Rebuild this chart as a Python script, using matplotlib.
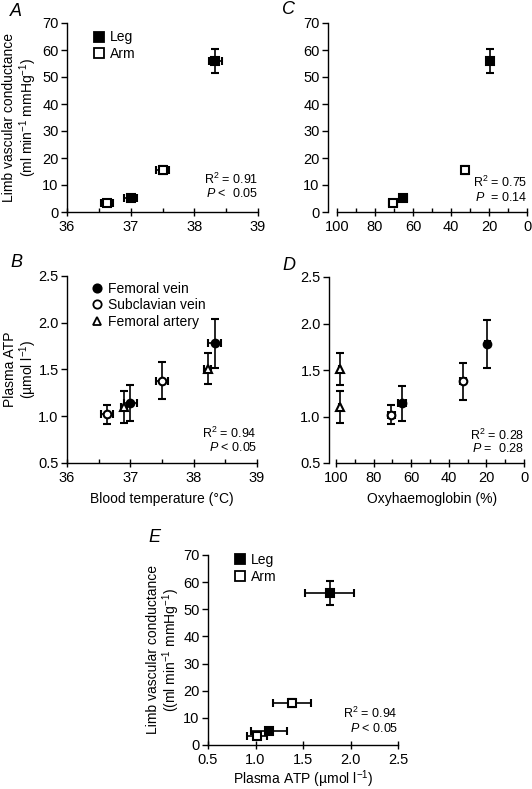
import matplotlib
matplotlib.use("Agg")
import matplotlib.pyplot as plt
from matplotlib.lines import Line2D
from matplotlib.ticker import MultipleLocator

plt.rcParams['font.family'] = ['Liberation Sans', 'DejaVu Sans']
plt.rcParams['font.size'] = 10
plt.rcParams['axes.linewidth'] = 1.0
plt.rcParams['mathtext.fontset'] = 'custom'
plt.rcParams['mathtext.rm'] = 'Liberation Sans'
plt.rcParams['mathtext.it'] = 'Liberation Sans:italic'

# blood temperature (deg C)
leg_temp = [37.0, 38.33]
leg_temp_err = [0.1, 0.1]
arm_temp = [36.63, 37.5]
arm_temp_err = [0.1, 0.1]
art_temp = [36.9, 38.22]
art_temp_err = [0.04, 0.05]

# oxyhaemoglobin (%)
leg_oxy = [65.0, 19.5]
leg_oxy_err = [2.0, 1.5]
arm_oxy = [70.5, 32.5]
arm_oxy_err = [2.0, 1.5]
art_oxy = [98.0, 98.0]
art_oxy_err = [0.3, 0.3]

# limb vascular conductance
leg_lvc = [5.2, 56.0]
leg_lvc_err = [0.9, 4.4]
arm_lvc = [3.3, 15.5]
arm_lvc_err = [0.8, 1.5]

# plasma ATP
fv_atp = [1.14, 1.78]
fv_atp_err = [0.19, 0.26]
sv_atp = [1.02, 1.38]
sv_atp_err = [0.105, 0.2]
fa_atp = [1.10, 1.51]
fa_atp_err = [0.17, 0.17]

stats_A = ("0.91", "<  0.05")
stats_B = ("0.94", "< 0.05")
stats_C = ("0.75", " = 0.14")
stats_D = ("0.28", "=  0.28")
stats_E = ("0.94", "< 0.05")

W, H = 532, 789
fig = plt.figure(figsize=(W / 100, H / 100), dpi=100)


def box(l, t, r, b):
    return [l / W, 1 - b / H, (r - l) / W, (b - t) / H]


def pts(ax, x, y, xerr, yerr, marker, filled, ms=6):
    ax.errorbar(x, y, xerr=xerr, yerr=yerr, fmt=marker, ms=ms,
                mfc='black' if filled else 'white', mec='black', mew=1.5,
                ecolor='black', elinewidth=1.2, capsize=3, capthick=1.2,
                zorder=3)


def style(ax):
    for s in ['top', 'right']:
        ax.spines[s].set_visible(False)
    ax.tick_params(axis='y', direction='out', length=4, width=1, pad=2,
                   labelsize=10.5)
    ax.tick_params(axis='x', which='major', direction='inout', length=6,
                   width=1, pad=3, labelsize=10.5)
    ax.tick_params(axis='x', which='minor', direction='in', length=3, width=1)


def stats(ax, r2, p, y1, y2):
    ax.text(1.0, y1, r"R$^2$ = " + r2, transform=ax.transAxes, ha='right',
            va='center', fontsize=9)
    ax.text(1.0, y2, r"$\it{P}$ " + p, transform=ax.transAxes,
            ha='right', va='center', fontsize=9)


lvc_label = "Limb vascular conductance\n(ml min$^{-1}$ mmHg$^{-1}$)"
atp_label = "Plasma ATP\n(\u00b5mol l$^{-1}$)"

# Panel A
axA = fig.add_axes(box(67, 23, 258, 212))
pts(axA, leg_temp, leg_lvc, leg_temp_err, leg_lvc_err, 's', True)
pts(axA, arm_temp, arm_lvc, arm_temp_err, arm_lvc_err, 's', False)
axA.set_xlim(36, 39)
axA.set_ylim(0, 70)
axA.xaxis.set_major_locator(MultipleLocator(1))
axA.xaxis.set_minor_locator(MultipleLocator(0.5))
axA.yaxis.set_major_locator(MultipleLocator(10))
axA.set_ylabel(lvc_label, linespacing=1.05)
axA.yaxis.set_label_coords(-0.148, 0.5)
style(axA)
stats(axA, *stats_A, 0.175, 0.10)

# Panel C
axC = fig.add_axes(box(328, 23, 527, 212))
pts(axC, leg_oxy, leg_lvc, leg_oxy_err, leg_lvc_err, 's', True)
pts(axC, arm_oxy, arm_lvc, arm_oxy_err, arm_lvc_err, 's', False)
axC.set_xlim(104.7, 0)
axC.set_ylim(0, 70)
axC.spines['bottom'].set_bounds(100, 0)
axC.xaxis.set_major_locator(MultipleLocator(20))
axC.xaxis.set_minor_locator(MultipleLocator(10))
axC.yaxis.set_major_locator(MultipleLocator(10))
style(axC)
stats(axC, *stats_C, 0.155, 0.075)

# Panel B
axB = fig.add_axes(box(67, 276, 257, 463))
pts(axB, leg_temp, fv_atp, leg_temp_err, fv_atp_err, 'o', True, 5.5)
pts(axB, arm_temp, sv_atp, arm_temp_err, sv_atp_err, 'o', False, 5.5)
pts(axB, art_temp, fa_atp, art_temp_err, fa_atp_err, '^', False, 6)
axB.set_xlim(36, 39)
axB.set_ylim(0.5, 2.5)
axB.xaxis.set_major_locator(MultipleLocator(1))
axB.xaxis.set_minor_locator(MultipleLocator(0.5))
axB.yaxis.set_major_locator(MultipleLocator(0.5))
axB.yaxis.set_major_formatter(plt.FormatStrFormatter('%.1f'))
axB.set_ylabel(atp_label, linespacing=1.05)
axB.yaxis.set_label_coords(-0.145, 0.5)
axB.set_xlabel("Blood temperature (\u00b0C)")
axB.xaxis.set_label_coords(0.5, -0.155)
style(axB)
stats(axB, *stats_B, 0.16, 0.085)

# Panel D
axD = fig.add_axes(box(329, 277, 524, 463))
pts(axD, leg_oxy, fv_atp, leg_oxy_err, fv_atp_err, 'o', True, 5.5)
pts(axD, arm_oxy, sv_atp, arm_oxy_err, sv_atp_err, 'o', False, 5.5)
pts(axD, art_oxy, fa_atp, art_oxy_err, fa_atp_err, '^', False, 6)
axD.set_xlim(103.7, 0)
axD.set_ylim(0.5, 2.5)
axD.spines['bottom'].set_bounds(100, 0)
axD.xaxis.set_major_locator(MultipleLocator(20))
axD.xaxis.set_minor_locator(MultipleLocator(10))
axD.yaxis.set_major_locator(MultipleLocator(0.5))
axD.yaxis.set_major_formatter(plt.FormatStrFormatter('%.1f'))
axD.set_xlabel("Oxyhaemoglobin (%)")
axD.xaxis.set_label_coords(0.53, -0.155)
style(axD)
stats(axD, *stats_D, 0.15, 0.08)

# Panel E
axE = fig.add_axes(box(208, 555, 398, 745))
pts(axE, fv_atp, leg_lvc, fv_atp_err, leg_lvc_err, 's', True)
pts(axE, sv_atp, arm_lvc, sv_atp_err, arm_lvc_err, 's', False)
axE.set_xlim(0.5, 2.5)
axE.set_ylim(0, 70)
axE.xaxis.set_major_locator(MultipleLocator(0.5))
axE.xaxis.set_major_formatter(plt.FormatStrFormatter('%.1f'))
axE.yaxis.set_major_locator(MultipleLocator(10))
axE.set_ylabel("Limb vascular conductance\n((ml min$^{-1}$ mmHg$^{-1}$)",
               linespacing=1.05)
axE.yaxis.set_label_coords(-0.135, 0.5)
axE.set_xlabel("Plasma ATP (\u00b5mol l$^{-1}$)")
axE.xaxis.set_label_coords(0.5, -0.125)
style(axE)
stats(axE, *stats_E, 0.165, 0.085)

# legends
sq_leg = [Line2D([], [], ls='none', marker='s', ms=6.5, mfc='black', mec='black', mew=1.3, label='Leg'),
          Line2D([], [], ls='none', marker='s', ms=6.5, mfc='white', mec='black', mew=1.3, label='Arm')]
circ_leg = [Line2D([], [], ls='none', marker='o', ms=6, mfc='black', mec='black', mew=1.3, label='Femoral vein'),
            Line2D([], [], ls='none', marker='o', ms=6, mfc='white', mec='black', mew=1.3, label='Subclavian vein'),
            Line2D([], [], ls='none', marker='^', ms=6, mfc='white', mec='black', mew=1.3, label='Femoral artery')]
for ax, h, anchor in [(axA, sq_leg, (0.1, 0.99)), (axE, sq_leg, (0.1, 1.04)),
                      (axB, circ_leg, (0.09, 1.0))]:
    ax.legend(handles=h, loc='upper left', bbox_to_anchor=anchor,
              frameon=False, handletextpad=0.3, handlelength=1.0,
              labelspacing=0.2, borderaxespad=0, fontsize=10)

# panel letters
for x, y, s in [(10, 11, 'A'), (10, 263, 'B'), (282, 10, 'C'),
                (282, 266, 'D'), (148, 537, 'E')]:
    fig.text(x / W, 1 - y / H, s, fontsize=13, style='italic',
             ha='left', va='center')

fig.savefig("out.png", dpi=100)
